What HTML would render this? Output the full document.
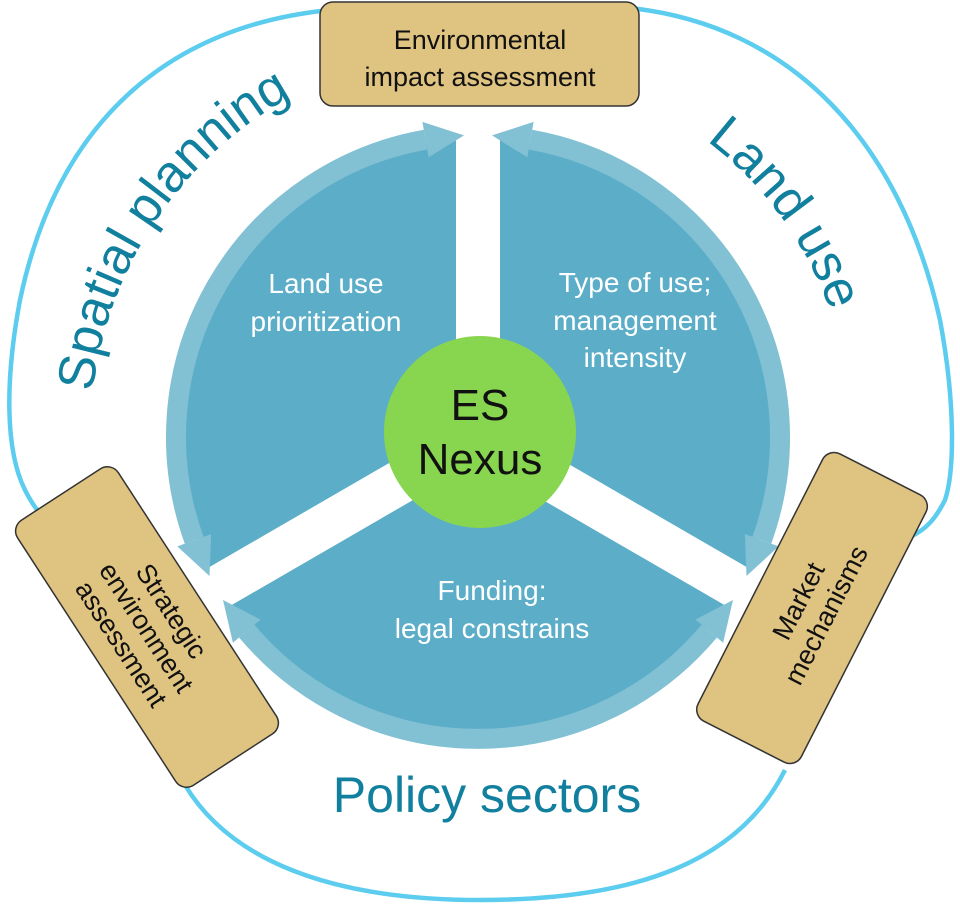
<!DOCTYPE html>
<html><head><meta charset="utf-8"><style>
html,body{margin:0;padding:0;background:#fff;width:960px;height:905px;overflow:hidden}
svg{display:block}
text{font-family:"Liberation Sans",sans-serif}
</style></head><body>
<svg width="960" height="905" viewBox="0 0 960 905" xmlns="http://www.w3.org/2000/svg">
<defs>
<path id="spl" d="M97.1 511 A388 388 0 0 1 404 56.1"/>
<path id="lu" d="M536.2 69.6 A366 366 0 0 1 845.4 495.2"/>
</defs>
<g fill="none" stroke="#5ccdef" stroke-width="4.5">
<path d="M330 10 C180 25 60 110 20 300 C5 380 5 450 25 490 C35 510 45 520 55 530"/>
<path d="M185 785 C230 860 330 900 480 900 C640 900 740 860 785 770"/>
<path d="M630 8 C790 25 900 140 940 320 C955 400 955 470 945 500 C935 520 925 530 910 537"/>
</g>
<circle cx="478" cy="437" r="298" fill="#5caec8"/>
<g stroke="#fff" stroke-width="44" stroke-linecap="butt">
<line x1="478" y1="437" x2="478" y2="100"/>
<line x1="478" y1="437" x2="770" y2="606"/>
<line x1="478" y1="437" x2="186" y2="606"/>
</g>
<g fill="none" stroke="#82c1d4" stroke-width="20">
<path d="M194.2 540.3 A302 302 0 0 1 425.6 139.6"/>
<path d="M530.4 139.6 A302 302 0 0 1 761.8 540.3"/>
<path d="M709.3 631.1 A302 302 0 0 1 246.7 631.1"/>
</g>
<g fill="#82c1d4">
<polygon points="428.7,157.3 422.4,121.9 464,135.4"/>
<polygon points="211.1,534.1 177.3,546.4 209.5,576"/>
<polygon points="527.3,157.3 533.6,121.9 492,135.4"/>
<polygon points="744.9,534.1 778.7,546.4 746.5,576"/>
<polygon points="695.5,619.6 723.1,642.7 733,600"/>
<polygon points="260.5,619.6 232.9,642.7 223,600"/>
</g>
<circle cx="480" cy="432" r="96" fill="#88d550"/>
<text x="480" y="420" font-size="44" text-anchor="middle" fill="#111">ES</text>
<text x="480" y="474" font-size="44" text-anchor="middle" fill="#111">Nexus</text>
<g fill="#fff" font-size="28" text-anchor="middle">
<text x="326" y="293">Land use</text>
<text x="326" y="331">prioritization</text>
<text x="635" y="292">Type of use;</text>
<text x="635" y="330">management</text>
<text x="635" y="367">intensity</text>
<text x="492" y="600">Funding:</text>
<text x="492" y="638">legal constrains</text>
</g>
<text font-size="52" fill="#117f9e"><textPath href="#spl" startOffset="50%" text-anchor="middle">Spatial planning</textPath></text>
<text font-size="52" fill="#117f9e"><textPath href="#lu" startOffset="50%" text-anchor="middle">Land use</textPath></text>
<text x="487" y="812" font-size="50" fill="#117f9e" text-anchor="middle">Policy sectors</text>
<rect x="320" y="2" width="319" height="104" rx="13" fill="#dfc381" stroke="#333" stroke-width="1.5"/>
<text x="480" y="49" font-size="27" text-anchor="middle" fill="#111">Environmental</text>
<text x="480" y="86" font-size="27" text-anchor="middle" fill="#111">impact assessment</text>
<g transform="translate(147,627) rotate(57)">
<rect x="-158" y="-60" width="316" height="120" rx="13" fill="#dfc381" stroke="#333" stroke-width="1.5"/>
<text x="0" y="-20" font-size="27" text-anchor="middle" fill="#111">Strategic</text>
<text x="0" y="10" font-size="27" text-anchor="middle" fill="#111">environment</text>
<text x="0" y="40" font-size="27" text-anchor="middle" fill="#111">assessment</text>
</g>
<g transform="translate(812,608) rotate(-63)">
<rect x="-150" y="-58" width="300" height="116" rx="13" fill="#dfc381" stroke="#333" stroke-width="1.5"/>
<text x="0" y="-6" font-size="27" text-anchor="middle" fill="#111">Market</text>
<text x="0" y="25" font-size="27" text-anchor="middle" fill="#111">mechanisms</text>
</g>
</svg>
</body></html>
